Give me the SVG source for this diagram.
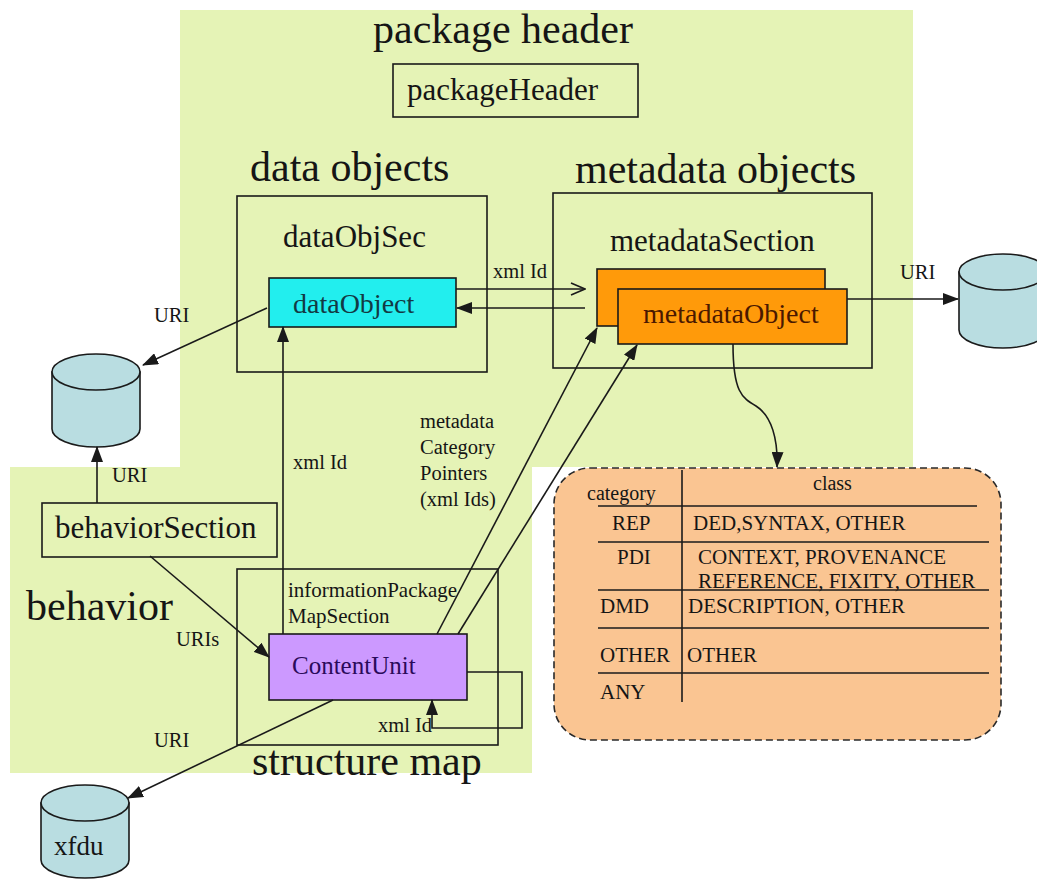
<svg xmlns="http://www.w3.org/2000/svg" width="1037" height="880" viewBox="0 0 1037 880">
<style>
text{font-family:"Liberation Serif","Times New Roman",serif;fill:#151515}
.title{font-size:42px}
.box{font-size:31px}
.lbl{font-size:20.5px}
.tbl{font-size:21px}
.frame{fill:none;stroke:#1a1a1a;stroke-width:1.6}
.conn{fill:none;stroke:#1a1a1a;stroke-width:1.6}
.cyl{fill:#b9dde1;stroke:#1a1a1a;stroke-width:1.6}
.rule{stroke:#1a1a1a;stroke-width:1.6}
</style>
<defs>
<marker id="ah" markerUnits="userSpaceOnUse" markerWidth="16" markerHeight="12" refX="15" refY="6" orient="auto">
<path d="M0,0 L16,6 L0,12 Z" fill="#1a1a1a"/>
</marker>
<marker id="oh" markerUnits="userSpaceOnUse" markerWidth="16" markerHeight="14" refX="15" refY="7" orient="auto">
<path d="M1,1 L15,7 L1,13" fill="none" stroke="#1a1a1a" stroke-width="1.6"/>
</marker>
</defs>
<rect width="1037" height="880" fill="#ffffff"/>
<path id="background" d="M180,10 L913,10 L913,467 L532,467 L532,773 L10,773 L10,467 L180,467 Z" fill="#e5f3b6"/>

<g id="region-labels">
<text class="title" x="373" y="43">package header</text>
<text class="title" x="250" y="181">data objects</text>
<text class="title" x="575" y="183">metadata objects</text>
<text class="title" x="26" y="620">behavior</text>
<text class="title" x="252" y="775">structure map</text>
</g>

<g id="packageHeader">
<rect class="frame" x="393" y="64" width="245" height="53"/>
<text class="box" x="407" y="100">packageHeader</text>
</g>

<g id="dataObjSec">
<rect class="frame" x="237" y="196" width="250" height="176"/>
<text class="box" x="283" y="247">dataObjSec</text>
</g>

<g id="dataObject">
<rect x="269" y="278" width="187" height="49" fill="#22eeee" stroke="#1a1a1a" stroke-width="1.6"/>
<text x="293" y="313" style="font-size:28px;fill:#123a44">dataObject</text>
</g>

<g id="metadataSection">
<rect class="frame" x="553" y="193" width="319" height="175"/>
<text class="box" x="610" y="251">metadataSection</text>
</g>

<g id="metadataObject">
<rect x="597" y="269" width="228" height="57" fill="#ff9a0a" stroke="#1a1a1a" stroke-width="1.6"/>
<rect x="618" y="289" width="229" height="55" fill="#ff9a0a" stroke="#1a1a1a" stroke-width="1.6"/>
<text x="643" y="323" style="font-size:28px;fill:#4a1800">metadataObject</text>
</g>

<g id="behaviorSection">
<rect class="frame" x="42" y="503" width="235" height="54"/>
<text class="box" x="55" y="538">behaviorSection</text>
</g>

<g id="informationPackageMapSection">
<rect class="frame" x="237" y="569" width="261" height="176"/>
<text class="lbl" x="288" y="597" style="font-size:21px">informationPackage</text>
<text class="lbl" x="288" y="623" style="font-size:21px">MapSection</text>
</g>

<g id="ContentUnit">
<rect x="269" y="634" width="198" height="66" fill="#cc99ff" stroke="#1a1a1a" stroke-width="1.6"/>
<text x="292" y="674" style="font-size:25px;fill:#2a0a5a">ContentUnit</text>
</g>

<g id="storage-left">
<path class="cyl" d="M52,372 L52,429 A44,18 0 0 0 140,429 L140,372 Z"/>
<ellipse class="cyl" cx="96" cy="372" rx="44" ry="18"/>
</g>

<g id="storage-right">
<path class="cyl" d="M959,272 L959,330 A44,18 0 0 0 1047,330 L1047,272 Z"/>
<ellipse class="cyl" cx="1003" cy="272" rx="44" ry="18"/>
</g>

<g id="xfdu">
<path class="cyl" d="M41,803 L41,860 A44,18 0 0 0 129,860 L129,803 Z"/>
<ellipse class="cyl" cx="85" cy="803" rx="44" ry="18"/>
<text x="54" y="855" style="font-size:27px">xfdu</text>
</g>

<g id="categoryTable">
<rect x="554" y="468" width="447" height="272" rx="36" ry="36" fill="#fac592" stroke="#2a2a2a" stroke-width="1.6" stroke-dasharray="7 4"/>
<line class="rule" x1="682" y1="470" x2="682" y2="702"/>
<line class="rule" x1="598" y1="506" x2="977" y2="506"/>
<line class="rule" x1="598" y1="542" x2="989" y2="542"/>
<line class="rule" x1="598" y1="590" x2="989" y2="590"/>
<line class="rule" x1="598" y1="628" x2="989" y2="628"/>
<line class="rule" x1="598" y1="673" x2="989" y2="673"/>
<text class="tbl" x="587" y="500" style="font-size:20px">category</text>
<text class="tbl" x="813" y="490" style="font-size:20px">class</text>
<text class="tbl" x="612" y="530">REP</text>
<text class="tbl" x="693" y="530">DED,SYNTAX, OTHER</text>
<text class="tbl" x="617" y="564">PDI</text>
<text class="tbl" x="698" y="564">CONTEXT, PROVENANCE</text>
<text class="tbl" x="698" y="588">REFERENCE, FIXITY, OTHER</text>
<text class="tbl" x="600" y="613">DMD</text>
<text class="tbl" x="688" y="613">DESCRIPTION, OTHER</text>
<text class="tbl" x="600" y="662">OTHER</text>
<text class="tbl" x="687" y="662">OTHER</text>
<text class="tbl" x="600" y="699">ANY</text>
</g>

<g id="connectors">
<line class="conn" x1="456" y1="289" x2="585" y2="289" marker-end="url(#oh)"/>
<line class="conn" x1="585" y1="308" x2="457" y2="308" marker-end="url(#ah)"/>
<line class="conn" x1="847" y1="299" x2="958" y2="299" marker-end="url(#ah)"/>
<line class="conn" x1="267" y1="308" x2="143" y2="365" marker-end="url(#ah)"/>
<line class="conn" x1="97" y1="503" x2="97" y2="447" marker-end="url(#ah)"/>
<line class="conn" x1="283" y1="634" x2="283" y2="327" marker-end="url(#ah)"/>
<line class="conn" x1="437" y1="634" x2="597" y2="328" marker-end="url(#ah)"/>
<line class="conn" x1="458" y1="634" x2="637" y2="345" marker-end="url(#ah)"/>
<line class="conn" x1="150" y1="556" x2="269" y2="657" marker-end="url(#ah)"/>
<line class="conn" x1="333" y1="700" x2="128" y2="798" marker-end="url(#ah)"/>
<path class="conn" d="M467,672 L522,672 L522,728 L432,728 L432,700" marker-end="url(#ah)"/>
<path class="conn" d="M733,344 C733,392 742,398 756,406 C772,416 778,440 777,467" marker-end="url(#ah)"/>
<text class="lbl" x="493" y="278">xml Id</text>
<text class="lbl" x="900" y="279">URI</text>
<text class="lbl" x="154" y="322">URI</text>
<text class="lbl" x="112" y="482">URI</text>
<text class="lbl" x="293" y="469">xml Id</text>
<text class="lbl" x="420" y="428">metadata</text>
<text class="lbl" x="420" y="454">Category</text>
<text class="lbl" x="420" y="480">Pointers</text>
<text class="lbl" x="420" y="506">(xml Ids)</text>
<text class="lbl" x="176" y="646">URIs</text>
<text class="lbl" x="378" y="732">xml Id</text>
<text class="lbl" x="154" y="747">URI</text>
</g>
</svg>
